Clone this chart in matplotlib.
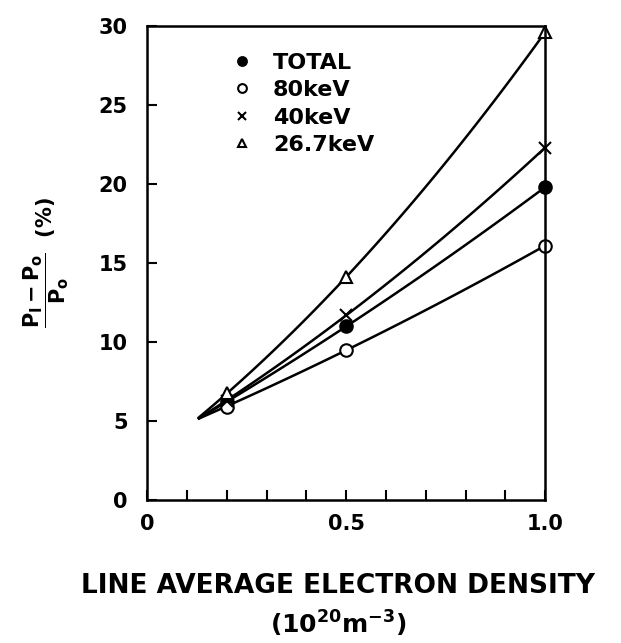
import numpy as np
import matplotlib.pyplot as plt

plt.rcParams['font.family'] = ['DejaVu Sans']
plt.rcParams['font.weight'] = 'bold'
plt.rcParams['mathtext.fontset'] = 'custom'
plt.rcParams['mathtext.rm'] = 'DejaVu Sans:bold'
plt.rcParams['mathtext.it'] = 'DejaVu Sans:bold'
plt.rcParams['mathtext.bf'] = 'DejaVu Sans:bold'

density = [0.2, 0.5, 1.0]
total = [6.2, 11.0, 19.8]
kev80 = [5.9, 9.5, 16.1]
kev40 = [6.3, 11.7, 22.3]
kev26 = [6.8, 14.1, 29.6]

# common starting point of the drawn curves
curve_start = (0.13, 5.2)

series = [
    ("TOTAL", total, dict(marker='o', mfc='black', mec='black')),
    ("80keV", kev80, dict(marker='o', mfc='white', mec='black')),
    ("40keV", kev40, dict(marker='x', mfc='black', mec='black')),
    ("26.7keV", kev26, dict(marker='^', mfc='white', mec='black')),
]

fig = plt.figure(figsize=(6.21, 6.43), dpi=100)
ax = fig.add_axes([0.237, 0.222, 0.641, 0.738])

for name, vals, st in series:
    xs = [curve_start[0]] + density
    ys = [curve_start[1]] + vals
    c = np.polyfit(xs, ys, 2)
    xx = np.linspace(curve_start[0], density[-1], 100)
    ax.plot(xx, np.polyval(c, xx), color='black', lw=1.8)
    ax.plot(density, vals, linestyle='none', ms=9, mew=1.5, label=name, clip_on=False, **st)

ax.set_xlim(0, 1.0)
ax.set_ylim(0, 30)
ax.set_xticks(np.arange(0, 1.01, 0.1), minor=True)
ax.set_xticks([0, 0.5, 1.0])
ax.set_xticklabels(['0', '0.5', '1.0'])
ax.set_yticks([0, 5, 10, 15, 20, 25, 30])
ax.tick_params(axis='both', direction='in', labelsize=15, length=7, width=1.5, pad=10)
ax.tick_params(axis='x', which='minor', direction='in', length=7, width=1.5)
ax.tick_params(axis='y', pad=14)
for s in ax.spines.values():
    s.set_linewidth(1.8)

leg = ax.legend(loc='upper left', bbox_to_anchor=(0.165, 0.985), frameon=False,
                prop=dict(size=16, weight='bold'), handletextpad=1.0,
                labelspacing=0.33, handlelength=0.8, markerscale=0.7)

ax.set_ylabel(r'$\dfrac{P_I-P_o}{P_o}$  (%)', fontsize=15, fontweight='bold', labelpad=20)
fig.text(0.545, 0.077, 'LINE AVERAGE ELECTRON DENSITY', ha='center', fontsize=19,
         fontweight='bold')
fig.text(0.545, 0.015, r'$(10^{20}\mathrm{m}^{-3})$', ha='center', fontsize=18)

fig.savefig('out.png', dpi=100)
